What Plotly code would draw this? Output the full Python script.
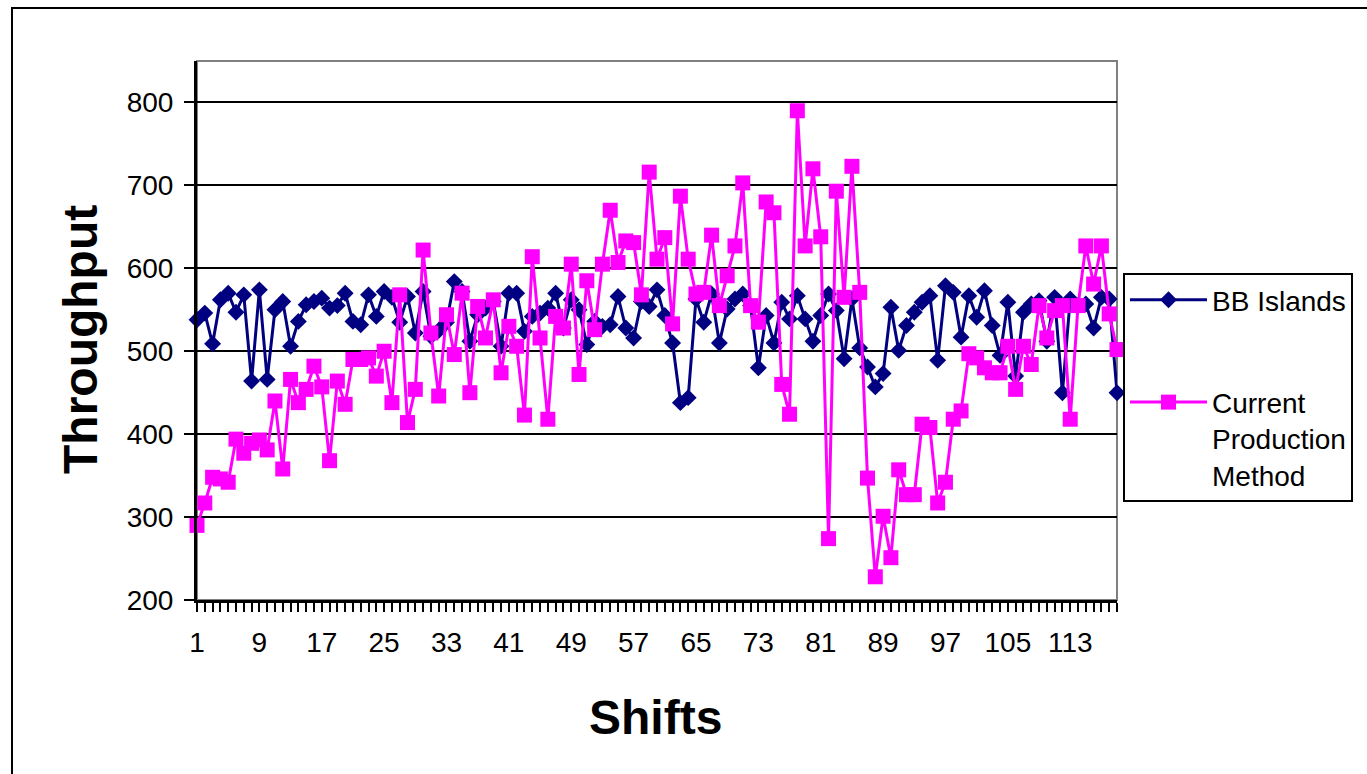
import plotly.graph_objects as go

# ---------------- data ----------------
shifts = list(range(1, 120))

bb_islands = [
    538, 546, 509, 562, 570, 547, 568, 464, 574, 466,
    550, 560, 506, 536, 556, 560, 564, 552, 555, 570,
    536, 532, 568, 542, 572, 565, 535, 566, 522, 572,
    518, 525, 535, 584, 572, 512, 544, 552, 560, 506,
    570, 570, 524, 542, 546, 552, 570, 528, 562, 550,
    508, 536, 530, 532, 566, 528, 516, 560, 554, 574,
    543, 510, 438, 444, 563, 535, 569, 510, 551, 563,
    569, 555, 480, 543, 510, 559, 539, 567, 539, 512,
    543, 569, 549, 491, 563, 504, 481, 457, 473, 553,
    501, 531, 547, 559, 567, 489, 579, 571, 517, 567,
    541, 573, 531, 495, 559, 470, 547, 557, 561, 512,
    565, 450, 563, 555, 557, 528, 565, 563, 450,
]

current_method = [
    290, 317, 348, 346, 342, 394, 377, 389, 393, 381,
    440, 358, 466, 438, 454, 482, 457, 368, 464, 436,
    490, 490, 492, 470, 500, 438, 568, 414, 454, 622,
    522, 446, 544, 496, 570, 450, 554, 516, 562, 474,
    530, 506, 423, 614, 516, 418, 542, 528, 605, 472,
    585, 526, 605, 670, 607, 633, 631, 568, 716, 611,
    637, 533, 687, 611, 569, 571, 640, 555, 591, 627,
    703, 555, 535, 680, 667, 460, 424, 790, 627, 720,
    638, 274, 693, 565, 723, 571, 347, 228, 301, 251,
    357, 327, 327, 412, 408, 317, 342, 418, 428, 497,
    492, 480, 474, 474, 506, 454, 506, 484, 555, 516,
    549, 555, 418, 555, 627, 581, 627, 545, 502,
]

series_names = ["BB Islands", "Current<br>Production<br>Method"]
y_ticks = [200, 300, 400, 500, 600, 700, 800]

FONT = "Liberation Sans, Arial, sans-serif"

# ---------------- figure ----------------
fig = go.Figure()

fig.add_trace(go.Scatter(
    x=shifts, y=bb_islands, name=series_names[0], mode="lines+markers",
    line=dict(color="#000080", width=3),
    marker=dict(symbol="diamond", size=13, color="#000080"),
    cliponaxis=False, legendgroup="a",
))
fig.add_trace(go.Scatter(
    x=shifts, y=current_method, name=series_names[1], mode="lines+markers",
    line=dict(color="#FF00FF", width=3),
    marker=dict(symbol="square", size=15, color="#FF00FF"),
    cliponaxis=False, legendgroup="b",
))

W, H = 1367, 774
L, R, T, B = 197, 1117, 61, 600
pw, ph = R - L, B - T


def px(X):
    return (X - L) / pw


def py(Y):
    return (B - Y) / ph


fig.update_layout(
    width=W, height=H,
    margin=dict(l=L, r=W - R, t=T, b=H - B, autoexpand=False),
    paper_bgcolor="white", plot_bgcolor="white",
    font=dict(family=FONT, size=28, color="black"),
    showlegend=True,
    legend=dict(
        x=px(1123), y=py(273), xanchor="left", yanchor="top",
        bordercolor="black", borderwidth=2, bgcolor="white",
        font=dict(family=FONT, size=28, color="black"),
        tracegroupgap=63, valign="top", traceorder="grouped",
        itemwidth=77,
    ),
    xaxis=dict(
        range=[1, 119], tickmode="linear", tick0=1, dtick=8,
        showgrid=False, zeroline=False,
        showline=True, linecolor="black", linewidth=3,
        ticks="outside", ticklen=9, tickwidth=2, tickcolor="black",
        minor=dict(dtick=1, tick0=1, ticks="outside", ticklen=9,
                   tickwidth=2, tickcolor="black", showgrid=False),
        tickfont=dict(family=FONT, size=28, color="black"),
        ticklabelstandoff=6,
    ),
    yaxis=dict(
        range=[200, 850], tickmode="array", tickvals=y_ticks,
        showgrid=True, gridcolor="black", gridwidth=2, zeroline=False,
        showline=True, linecolor="black", linewidth=3,
        ticks="outside", ticklen=10, tickwidth=2, tickcolor="black",
        tickfont=dict(family=FONT, size=28, color="black"),
        ticklabelstandoff=5,
    ),
    shapes=[
        dict(type="rect", xref="paper", yref="paper", x0=0, x1=1, y0=0, y1=1,
             line=dict(color="#808080", width=2), layer="below"),
        dict(type="rect", xref="paper", yref="paper",
             x0=px(12), x1=px(1372), y0=py(8), y1=py(780),
             line=dict(color="black", width=2), layer="below"),
    ],
    annotations=[
        dict(text="<b>Shifts</b>", xref="paper", yref="paper",
             x=px(655), y=py(717), xanchor="center", yanchor="middle",
             showarrow=False, font=dict(family=FONT, size=48, color="black")),
        dict(text="<b>Throughput</b>", xref="paper", yref="paper",
             x=px(80), y=py(340), xanchor="center", yanchor="middle",
             textangle=-90, showarrow=False,
             font=dict(family=FONT, size=48, color="black")),
    ],
)

fig.write_html("out.html")
